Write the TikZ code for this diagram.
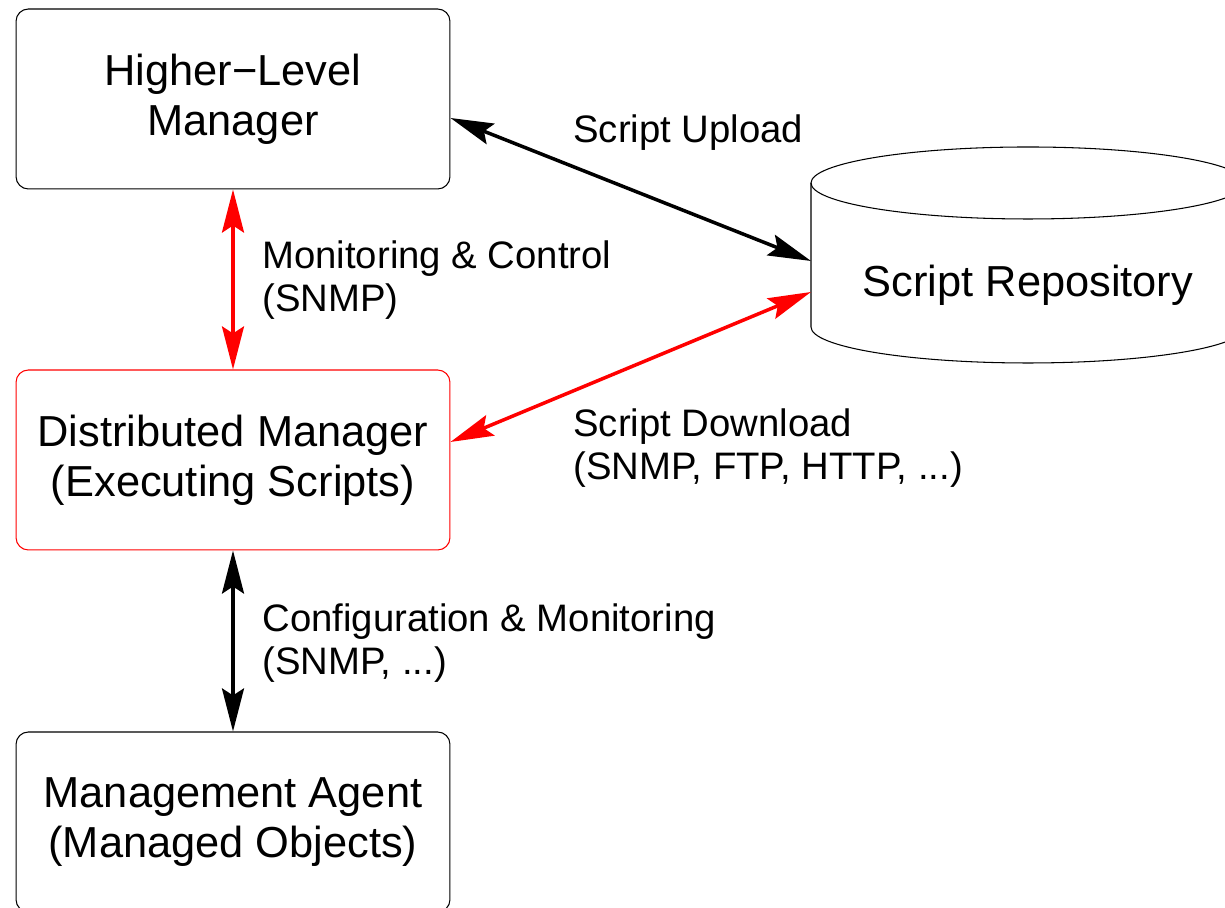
\documentclass[tikz,border=0pt]{standalone}
\usepackage{fontspec}
\setmainfont{Liberation Sans}
\usetikzlibrary{arrows.meta,calc}
\tikzset{
  box/.style={draw,rounded corners=7pt,line width=0.6pt,minimum width=8.68cm,minimum height=3.6cm,align=center,font=\fontsize{24.7}{28.4}\selectfont},
  lbl/.style={anchor=west,inner sep=0pt,align=left,font=\fontsize{21.8}{24.4}\selectfont},
  link/.style={{Stealth[length=24.5pt,width=12.5pt,inset=4pt]}-{Stealth[length=24.5pt,width=12.5pt,inset=4pt]},line width=2pt}
}

\begin{document}
\begin{tikzpicture}[x=0.02cm,y=0.02cm]
        \useasboundingbox (0,0) rectangle (1225,908);
        % boxes
        \node[box] (hlm) at (233,809) {Higher−Level\\Manager};
        \node[box,draw=red] (dm) at (233,448) {Distributed Manager\\(Executing Scripts)};
        \node[box] (agent) at (233,86) {Management Agent\\(Managed Objects)};
        % repository
        \draw[line width=0.6pt] (811,725) -- (811,581) arc[start angle=180,end angle=360,x radius=217,y radius=36] -- (1245,725);
        \draw[line width=0.6pt] (1028,725) ellipse[x radius=217,y radius=36];
        \node[font=\fontsize{24.7}{28.4}\selectfont] (repo) at (1028,623) {Script Repository};
        \coordinate (repoup) at (811,647);
        \coordinate (repodown) at (811,616);
        % links
        \draw[link] ($(hlm.east)+(0,-19)$) -- (repoup);
        \draw[link,red] ($(dm.east)+(0,18)$) -- (repodown);
        \draw[link,red] (hlm.south) -- (dm.north);
        \draw[link] (dm.south) -- (agent.north);
        % labels
        \node[lbl] (up) at (573,775) {Script Upload};
        \node[lbl] (mon) at (262,628) {Monitoring \& Control\\(SNMP)};
        \node[lbl] (down) at (573,460) {Script Download\\(SNMP, FTP, HTTP, ...)};
        \node[lbl] (conf) at (262,265) {Configuration \& Monitoring\\(SNMP, ...)};
\end{tikzpicture}
\end{document}
